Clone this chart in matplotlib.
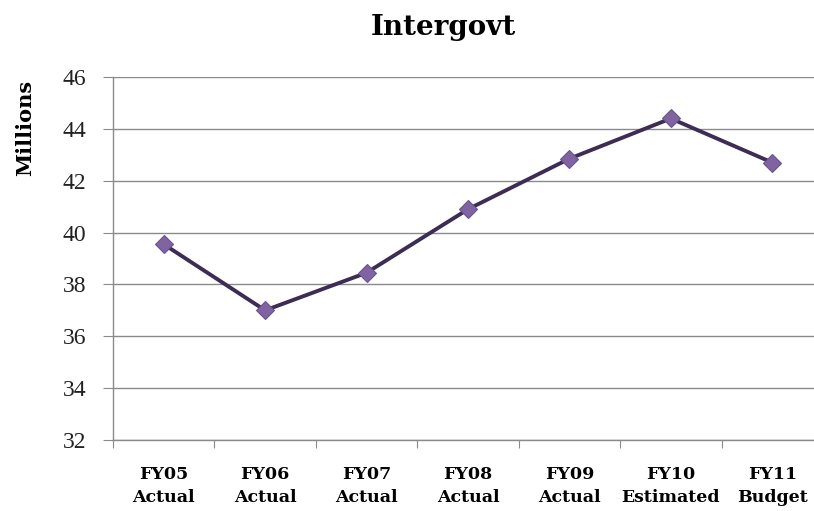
import matplotlib
matplotlib.use("Agg")
import matplotlib.pyplot as plt
import numpy as np

categories = ["FY05\nActual", "FY06\nActual", "FY07\nActual", "FY08\nActual",
              "FY09\nActual", "FY10\nEstimated", "FY11\nBudget"]
values = [39.55, 37.0, 38.45, 40.9, 42.85, 44.4, 42.7]
yticks = [32, 34, 36, 38, 40, 42, 44, 46]

W, H = 814, 511
fig = plt.figure(figsize=(W/100, H/100), dpi=100)
ax = fig.add_axes([113/W, 1-440/H, (823-113)/W, (440-77)/H])

x = np.arange(len(categories))
ax.plot(x, values, color="#3d2d55", lw=2.8, zorder=3)
ax.plot(x, values, ls="none", marker="D", ms=9.5, mfc="#8064a2", mec="#6a5290", mew=0.8, zorder=4)

ax.set_xlim(-0.5, len(categories)-0.5)
ax.set_ylim(32, 46)
ax.set_yticks(yticks)
ax.set_yticklabels([str(v) for v in yticks], fontsize=17, family="Liberation Serif", color="#222222")
ax.yaxis.grid(True, color="#8a8a8a", lw=1.0)
ax.set_axisbelow(True)

ax.set_xticks(np.arange(-0.5, len(categories)), minor=False)
ax.set_xticklabels([""]*(len(categories)+1))
ax.set_xticks(x, minor=True)
ax.set_xticklabels(categories, minor=True, fontsize=12.5, fontweight="bold", family="DejaVu Serif",
                   linespacing=1.4)
ax.tick_params(axis="x", which="minor", length=0, pad=19)
ax.tick_params(axis="x", which="major", length=6, color="#8a8a8a", direction="out")
ax.tick_params(axis="y", length=7, color="#8a8a8a", direction="out", pad=12)

for s in ["top", "right"]:
    ax.spines[s].set_visible(False)
for s in ["left", "bottom"]:
    ax.spines[s].set_color("#8a8a8a")
    ax.spines[s].set_linewidth(1.0)

fig.text(25/W, 1-128/H, "Millions", ha="center", va="center", rotation=90, fontsize=15,
         fontweight="bold", family="DejaVu Serif")
fig.text(443/W, 1-27/H, "Intergovt", ha="center", va="center", fontsize=20, fontweight="bold",
         family="DejaVu Serif")

fig.savefig("out.png", dpi=100)
